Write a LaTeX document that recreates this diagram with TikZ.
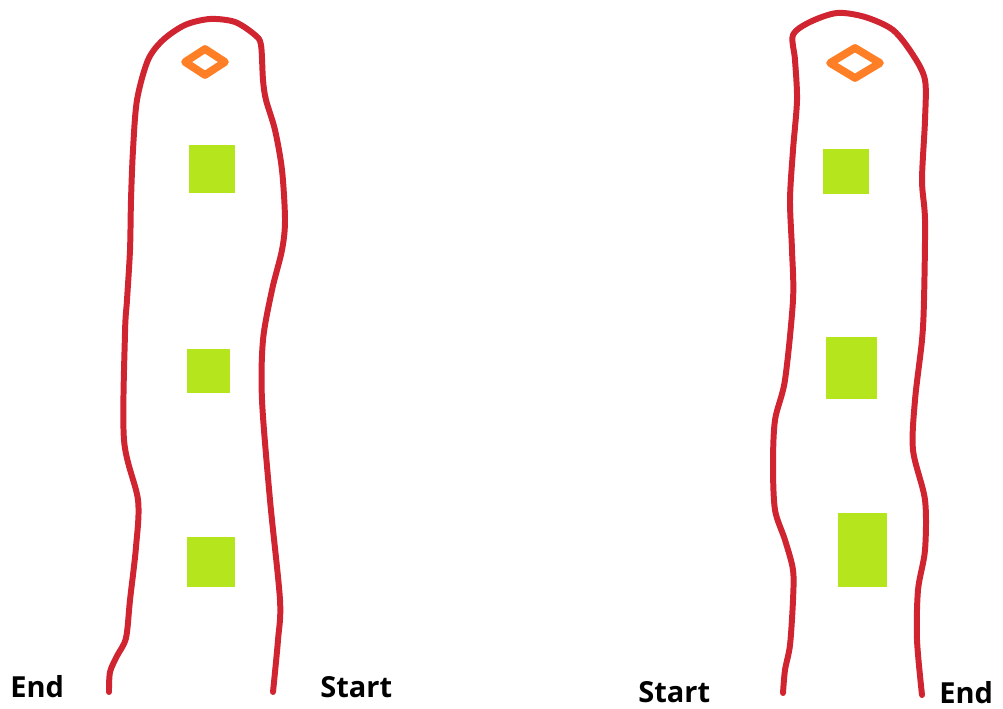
\documentclass[tikz,border=0pt]{standalone}
\usepackage{fontspec}
\setsansfont{Open Sans}
\usetikzlibrary{positioning}
\definecolor{trailred}{RGB}{208,36,48}
\definecolor{padgreen}{RGB}{181,230,29}
\definecolor{markorange}{RGB}{255,127,39}
\tikzset{
    % --- Hand-drawn route outline ---
    trail/.style = {
        draw=trailred, line width=3.4pt,
        line cap=round, line join=round
    },
    % --- Green pad ---
    pad/.style = {
        fill=padgreen
    },
    % --- Orange start marker ---
    marker/.style = {
        draw=markorange, line width=4.4pt, line join=round
    },
    % --- Start/End label ---
    endlabel/.style = {
        font=\sffamily\bfseries\fontsize{16.5}{17}\selectfont,
        anchor=base west, inner sep=0pt
    }
}

\begin{document}
\begin{tikzpicture}[x=0.02cm, y=-0.02cm]
\useasboundingbox (0,0) rectangle (1003,709);

% ---------------------------------------------------------
% Left route
% ---------------------------------------------------------
\draw[trail] plot[smooth, tension=0.5] coordinates {
    (109,692) (110,672) (117,656) (126,638) (130,600) (136,547) (138,500)
    (124,440) (125,333) (127,300) (130,250) (131,200) (133,150)
    (137,100) (148,60) (163,40) (185,25) (210,19) (235,22)
    (255,35) (261,45) (263,80) (266,100) (275,130) (282,170)
    (285,220) (282,250) (272,290) (263,340) (262,400) (270,500)
    (280,600) (278,640) (273,692)};

\draw[marker] (205,49) -- (225,62) -- (205,75) -- (185,62) -- cycle;

\fill[pad] (189,145) rectangle (235,193);
\fill[pad] (187,349) rectangle (230,393);
\fill[pad] (187,537) rectangle (235,587);

\node[endlabel] (EndL) at (10,697) {End};
\node[endlabel] (StartL) at (320,697) {Start};

% ---------------------------------------------------------
% Right route
% ---------------------------------------------------------
\draw[trail] plot[smooth, tension=0.5] coordinates {
    (783,693) (785,670) (790,645) (793,600) (793,570) (785,540)
    (775,510) (773,465) (775,420) (785,380) (793,300) (792,250)
    (790,200) (793,150) (797,100) (795,60) (793,35) (810,22)
    (837,13) (865,17) (893,30) (913,55) (925,80) (925,120)
    (922,180) (925,220) (924,300) (922,340) (915,400) (913,450)
    (925,500) (925,550) (918,590) (917,640) (922,695)};

\draw[marker] (855,48) -- (880,63) -- (855,78) -- (830,63) -- cycle;

\fill[pad] (823,149) rectangle (869,194);
\fill[pad] (826,337) rectangle (877,399);
\fill[pad] (838,513) rectangle (887,587);

\node[endlabel] (StartR) at (638,702) {Start};
\node[endlabel] (EndR) at (939,703) {End};

\end{tikzpicture}
\end{document}
